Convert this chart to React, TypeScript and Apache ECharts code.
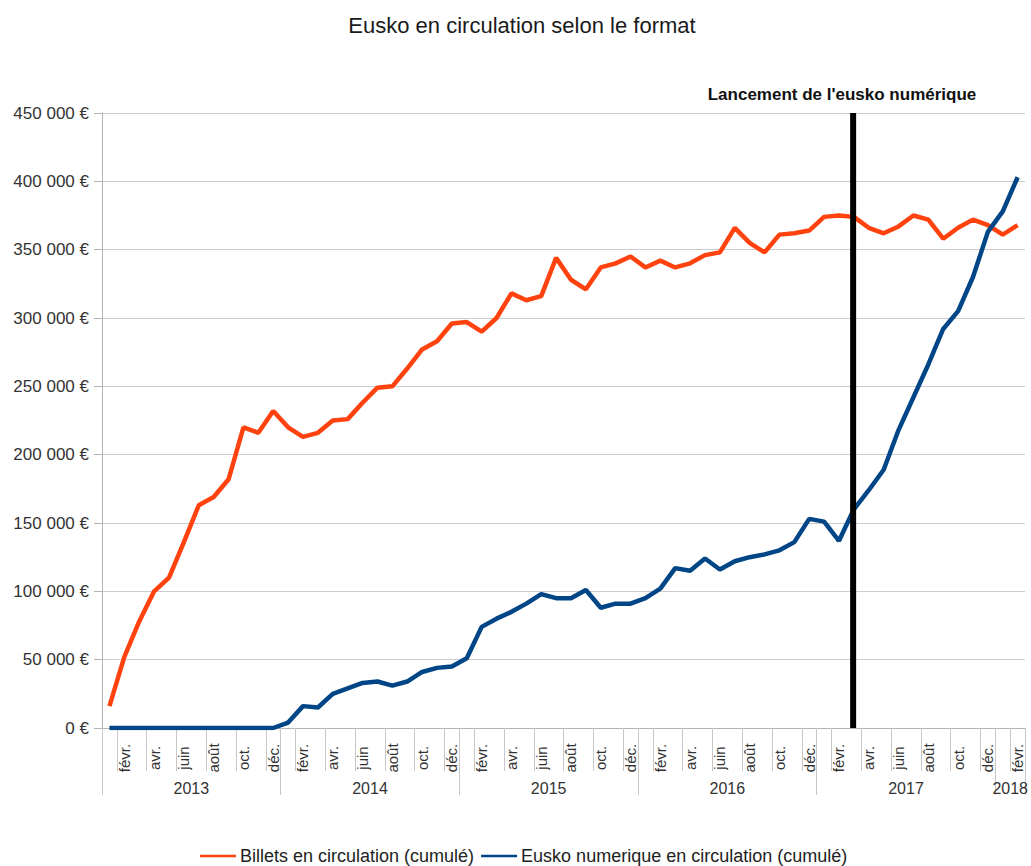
import React, { useEffect, useRef } from "react";
import * as echarts from "echarts";

const monthNames = ["janv.", "févr.", "mars", "avr.", "mai", "juin", "juil.", "août", "sept.", "oct.", "nov.", "déc."];
const years = ["2013", "2014", "2015", "2016", "2017", "2018"];
const monthsInYear = [12, 12, 12, 12, 12, 2];

const categories: string[] = [];
years.forEach((y, i) => {
  for (let m = 0; m < monthsInYear[i]; m++) categories.push(monthNames[m] + " " + y);
});

const billets = [
  16000, 52000, 78000, 100000, 110000, 136000, 163000, 169000, 182000, 220000, 216000, 232000,
  220000, 213000, 216000, 225000, 226000, 238000, 249000, 250000, 263000, 277000, 283000, 296000,
  297000, 290000, 300000, 318000, 313000, 316000, 344000, 328000, 321000, 337000, 340000, 345000,
  337000, 342000, 337000, 340000, 346000, 348000, 366000, 355000, 348000, 361000, 362000, 364000,
  374000, 375000, 374000, 366000, 362000, 367000, 375000, 372000, 358000, 366000, 372000, 368000,
  361000, 368000,
];

const numerique = [
  0, 0, 0, 0, 0, 0, 0, 0, 0, 0, 0, 0,
  4000, 16000, 15000, 25000, 29000, 33000, 34000, 31000, 34000, 41000, 44000, 45000,
  51000, 74000, 80000, 85000, 91000, 98000, 95000, 95000, 101000, 88000, 91000, 91000,
  95000, 102000, 117000, 115000, 124000, 116000, 122000, 125000, 127000, 130000, 136000, 153000,
  151000, 137000, 160000, 174000, 189000, 218000, 242000, 266000, 292000, 305000, 330000, 363000,
  378000, 403000,
];

// launch of the digital eusko, in months since Jan 2013 (mid March 2017)
const launchAt = 50.45;
const yMax = 450000;
const yStep = 50000;

const yearStarts = [0, 12, 24, 36, 48, 60, 62];
const yearCenters = [6, 18, 30, 42, 54, 61];

const FONT = "'Liberation Sans', Arial, sans-serif";

function fmtEuro(v: number) {
  return String(v).replace(/\B(?=(\d{3})+(?!\d))/g, " ") + " €";
}

export default function App() {
  const ref = useRef<HTMLDivElement>(null);
  useEffect(() => {
    document.body.style.margin = "0";
    const chart = echarts.init(ref.current!, null, { renderer: "svg" });
    chart.setOption({
      animation: false,
      backgroundColor: "#ffffff",
      textStyle: { fontFamily: FONT },
      title: [
        {
          text: "Eusko en circulation selon le format",
          left: 522,
          top: 14,
          padding: 0,
          textAlign: "center",
          textStyle: { fontFamily: FONT, fontSize: 22, fontWeight: "normal", color: "#1a1a1a" },
        },
        {
          text: "Lancement de l'eusko numérique",
          left: 842,
          top: 86,
          padding: 0,
          textAlign: "center",
          textStyle: { fontFamily: FONT, fontSize: 17, fontWeight: "bold", color: "#111111" },
        },
      ],
      legend: {
        data: ["Billets en circulation (cumulé)", "Eusko numerique en circulation (cumulé)"],
        left: 200,
        top: 847,
        padding: 0,
        icon: "rect",
        itemWidth: 36,
        itemHeight: 2.5,
        itemGap: 7,
        textStyle: { fontFamily: FONT, fontSize: 18, color: "#222222", padding: [0, 0, 0, -1] },
      },
      grid: { left: 102, right: 4, top: 113, bottom: 138, containLabel: false },
      xAxis: [
        {
          type: "category",
          data: categories,
          boundaryGap: true,
          position: "bottom",
          axisLine: { show: true, lineStyle: { color: "#b3b3b3", width: 1 } },
          axisTick: {
            show: true,
            length: 43,
            interval: (index: number) => index % 2 === 1,
            lineStyle: { color: "#c8c8c8", width: 1 },
          },
          axisLabel: {
            interval: (index: number) => index % 2 === 1,
            formatter: (v: string) => v.split(" ")[0],
            rotate: 90,
            align: "center",
            verticalAlign: "middle",
            margin: 30,
            fontFamily: FONT,
            fontSize: 15,
            color: "#333333",
          },
          splitLine: { show: false },
        },
        {
          type: "value",
          min: 0,
          max: 62,
          position: "bottom",
          axisLine: { show: false },
          splitLine: { show: false },
          axisTick: {
            show: true,
            customValues: yearStarts,
            length: 67,
            lineStyle: { color: "#c8c8c8", width: 1 },
          },
          axisLabel: {
            customValues: yearCenters,
            formatter: (v: number) => years[yearCenters.indexOf(v)] ?? "",
            margin: 52,
            fontFamily: FONT,
            fontSize: 16,
            color: "#333333",
          },
        },
      ],
      yAxis: {
        type: "value",
        min: 0,
        max: yMax,
        interval: yStep,
        axisLine: { show: true, lineStyle: { color: "#b3b3b3", width: 1 } },
        axisTick: { show: true, length: 8, lineStyle: { color: "#b3b3b3" } },
        splitLine: { show: true, lineStyle: { color: "#cccccc", width: 1 } },
        axisLabel: {
          formatter: fmtEuro,
          margin: 13,
          fontFamily: FONT,
          fontSize: 17,
          color: "#333333",
        },
      },
      series: [
        {
          name: "Billets en circulation (cumulé)",
          type: "line",
          data: billets,
          symbol: "none",
          color: "#ff420e",
          lineStyle: { color: "#ff420e", width: 4.5 },
          z: 3,
        },
        {
          name: "Eusko numerique en circulation (cumulé)",
          type: "line",
          data: numerique,
          symbol: "none",
          color: "#004586",
          lineStyle: { color: "#004586", width: 4.5 },
          z: 4,
        },
        {
          name: "launch",
          type: "line",
          xAxisIndex: 1,
          yAxisIndex: 0,
          data: [
            [launchAt, 0],
            [launchAt, yMax],
          ],
          symbol: "none",
          color: "#000000",
          lineStyle: { color: "#000000", width: 6 },
          z: 5,
          silent: true,
        },
      ],
    });
    return () => chart.dispose();
  }, []);
  return <div ref={ref} style={{ position: "absolute", left: 0, top: 0, width: 1031, height: 866 }} />;
}
